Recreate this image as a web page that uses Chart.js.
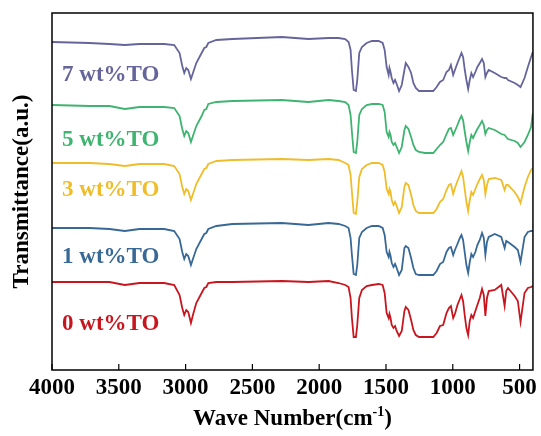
<!DOCTYPE html>
<html>
<head>
<meta charset="utf-8">
<script src="https://cdn.jsdelivr.net/npm/chart.js@4/dist/chart.umd.min.js"></script>
<style>
    body { margin: 0; background: #fff; }
</style>
</head>
<body>
<canvas id="graficoFTIR" width="541" height="436"></canvas>
<script>
// Espectros FTIR apilados (transmitancia en unidades arbitrarias)

const numerosOnda = [
    4000, 3720, 3570, 3455, 3345, 3160, 3085, 3045, 3025, 3010,
    2995, 2980, 2960, 2945, 2920, 2880, 2860, 2845, 2830, 2770,
    2650, 2280, 2080, 1930, 1855, 1805, 1780, 1765, 1755, 1742,
    1725, 1715, 1700, 1680, 1645, 1605, 1555, 1525, 1510, 1495,
    1480, 1474, 1466, 1457, 1444, 1432, 1420, 1402, 1382, 1362,
    1352, 1332, 1312, 1295, 1277, 1253, 1208, 1146, 1121, 1096,
    1072, 1047, 1029, 1014, 997, 984, 965, 947, 935, 923,
    910, 898, 885, 873, 861, 848, 831, 816, 798, 781,
    768, 756, 744, 731, 686, 637, 612, 600, 587, 537,
    513, 493, 463, 438, 414, 401
];

const ticksX = [4000, 3500, 3000, 2500, 2000, 1500, 1000, 500];

const serie7 = [
    328, 327, 326, 325, 326, 326, 325, 317, 304, 297,
    302, 300, 291, 297, 307, 317, 322, 323, 327, 330,
    331, 333, 331, 332, 332, 331, 328, 320, 300, 280,
    279, 290, 317, 323, 327, 329, 329, 327, 320, 303,
    295, 302, 298, 292, 287, 290, 286, 279, 285, 300,
    307, 303, 297, 287, 282, 279, 279, 279, 283, 288,
    290, 298, 300, 305, 295, 300, 307, 313, 317, 313,
    300, 290, 281, 290, 297, 293, 298, 303, 307, 311,
    307, 293, 297, 300, 297, 293, 292, 292, 290, 287,
    285, 283, 292, 303, 313, 318
];

const serie5 = [
    265, 264, 264, 261, 263, 263, 262, 254, 241, 234,
    239, 237, 228, 234, 244, 254, 260, 261, 266, 268,
    269, 270, 268, 270, 269, 268, 265, 255, 238, 218,
    217, 228, 255, 261, 265, 266, 266, 265, 258, 238,
    233, 238, 235, 228, 225, 227, 223, 217, 223, 240,
    244, 241, 233, 225, 220, 218, 217, 217, 221, 225,
    228, 236, 241, 242, 235, 239, 245, 251, 254, 250,
    238, 228, 219, 228, 235, 232, 237, 241, 245, 249,
    245, 236, 240, 242, 240, 236, 235, 233, 231, 229,
    227, 223, 228, 235, 243, 257
];

const serie3 = [
    207, 207, 206, 204, 206, 206, 204, 196, 183, 176,
    181, 179, 170, 176, 186, 196, 201, 202, 206, 209,
    210, 211, 210, 211, 210, 207, 205, 195, 178, 157,
    156, 168, 193, 201, 205, 207, 207, 205, 198, 181,
    176, 181, 178, 170, 165, 168, 164, 157, 163, 183,
    187, 185, 175, 165, 159, 157, 157, 157, 161, 168,
    171, 180, 185, 186, 176, 182, 189, 195, 199, 193,
    180, 168, 159, 170, 178, 175, 181, 186, 191, 195,
    190, 176, 185, 191, 192, 190, 180, 185, 185, 178,
    173, 167, 183, 193, 200, 202
];

const serie1 = [
    142, 142, 141, 139, 141, 141, 139, 131, 118, 111,
    116, 114, 105, 111, 121, 131, 136, 137, 141, 144,
    146, 147, 145, 147, 146, 144, 142, 132, 115, 96,
    95, 105, 132, 138, 142, 144, 144, 142, 135, 118,
    113, 118, 114, 107, 103, 106, 102, 95, 100, 122,
    124, 122, 112, 102, 96, 95, 95, 95, 99, 106,
    108, 118, 122, 123, 115, 120, 126, 132, 135, 130,
    117, 105, 97, 108, 116, 113, 118, 125, 130, 137,
    132, 115, 128, 133, 136, 133, 122, 129, 128, 123,
    120, 108, 133, 138, 139, 139
];

const serie0 = [
    88, 88, 88, 85, 87, 87, 85, 75, 62, 55,
    60, 58, 47, 55, 67, 77, 82, 83, 87, 88,
    88, 89, 88, 89, 87, 85, 83, 72, 52, 33,
    33, 45, 72, 80, 84, 85, 86, 85, 77, 57,
    52, 56, 52, 45, 42, 44, 39, 34, 39, 59,
    63, 60, 50, 40, 35, 33, 33, 33, 37, 44,
    45, 57, 62, 64, 52, 56, 65, 71, 75, 69,
    54, 42, 35, 49, 55, 52, 59, 65, 72, 81,
    75, 54, 72, 79, 80, 85, 64, 79, 82, 74,
    69, 48, 77, 82, 83, 84
];

const etiquetas = ['7 wt%TO', '5 wt%TO', '3 wt%TO', '1 wt%TO', '0 wt%TO'];
const series = [serie7, serie5, serie3, serie1, serie0];
const colores = ['#65659b', '#3fb470', '#efbd2a', '#386896', '#c8161f'];
// posición de cada rótulo (número de onda, transmitancia)
const posEtiquetas = [[3925, 295], [3925, 230], [3925, 180], [3925, 113], [3925, 46]];

const fuente = '"Liberation Serif", "Times New Roman", serif';

const marcoYRotulos = {
    id: 'marcoYRotulos',
    afterDraw(chart) {
        const ctx = chart.ctx;
        const area = chart.chartArea;
        const x = chart.scales.x;
        const y = chart.scales.y;
        ctx.save();

        // marco
        ctx.strokeStyle = '#000';
        ctx.lineWidth = 1.5;
        ctx.strokeRect(area.left, area.top, area.right - area.left, area.bottom - area.top);

        // marcas hacia dentro
        ctx.lineWidth = 1.2;
        ticksX.forEach(function(v) {
            const px = x.getPixelForValue(v);
            ctx.beginPath();
            ctx.moveTo(px, area.bottom);
            ctx.lineTo(px, area.bottom - 6);
            ctx.stroke();
        });

        // rótulos de las muestras
        ctx.font = 'bold 23px ' + fuente;
        ctx.textAlign = 'left';
        ctx.textBaseline = 'middle';
        etiquetas.forEach(function(txt, i) {
            ctx.fillStyle = colores[i];
            ctx.fillText(txt, x.getPixelForValue(posEtiquetas[i][0]), y.getPixelForValue(posEtiquetas[i][1]));
        });

        // título eje x con superíndice
        ctx.fillStyle = '#000';
        ctx.textBaseline = 'alphabetic';
        const parte1 = 'Wave Number(cm';
        const sup = '-1';
        const parte2 = ')';
        ctx.font = 'bold 23px ' + fuente;
        const w1 = ctx.measureText(parte1).width;
        const w3 = ctx.measureText(parte2).width;
        ctx.font = 'bold 14px ' + fuente;
        const w2 = ctx.measureText(sup).width;
        const cx = (area.left + area.right) / 2;
        let sx = cx - (w1 + w2 + w3) / 2;
        const base = 425;
        ctx.font = 'bold 23px ' + fuente;
        ctx.fillText(parte1, sx, base);
        ctx.font = 'bold 14px ' + fuente;
        ctx.fillText(sup, sx + w1, base - 9);
        ctx.font = 'bold 23px ' + fuente;
        ctx.fillText(parte2, sx + w1 + w2, base);

        // título eje y
        ctx.translate(22, (area.top + area.bottom) / 2);
        ctx.rotate(-Math.PI / 2);
        ctx.textAlign = 'center';
        ctx.textBaseline = 'middle';
        ctx.fillText('Transmittance(a.u.)', 0, 0);
        ctx.restore();
    }
};

new Chart(document.getElementById('graficoFTIR'), {
    type: 'line',
    data: {
        datasets: series.map(function(s, i) {
            return {
                label: etiquetas[i],
                data: numerosOnda.map(function(w, j) { return { x: w, y: s[j] }; }),
                borderColor: colores[i],
                borderWidth: 1.8,
                pointRadius: 0,
                fill: false,
                tension: 0
            };
        })
    },
    options: {
        responsive: false,
        animation: false,
        layout: {
            padding: { left: 52, top: 13, right: 6, bottom: 0 }
        },
        plugins: {
            legend: { display: false },
            tooltip: { enabled: false }
        },
        scales: {
            x: {
                type: 'linear',
                reverse: true,
                min: 400,
                max: 4000,
                grid: { display: false, drawTicks: false },
                border: { display: false },
                afterBuildTicks: function(scale) {
                    scale.ticks = ticksX.map(function(v) { return { value: v }; });
                },
                afterFit: function(scale) {
                    scale.height = 66;
                },
                ticks: {
                    autoSkip: false,
                    maxRotation: 0,
                    padding: 4,
                    color: '#000',
                    font: { family: fuente, size: 23, weight: 'bold' },
                    callback: function(value) {
                        return String(value);
                    }
                }
            },
            y: {
                display: false,
                min: 0,
                max: 357
            }
        }
    },
    plugins: [marcoYRotulos]
});
</script>
</body>
</html>
